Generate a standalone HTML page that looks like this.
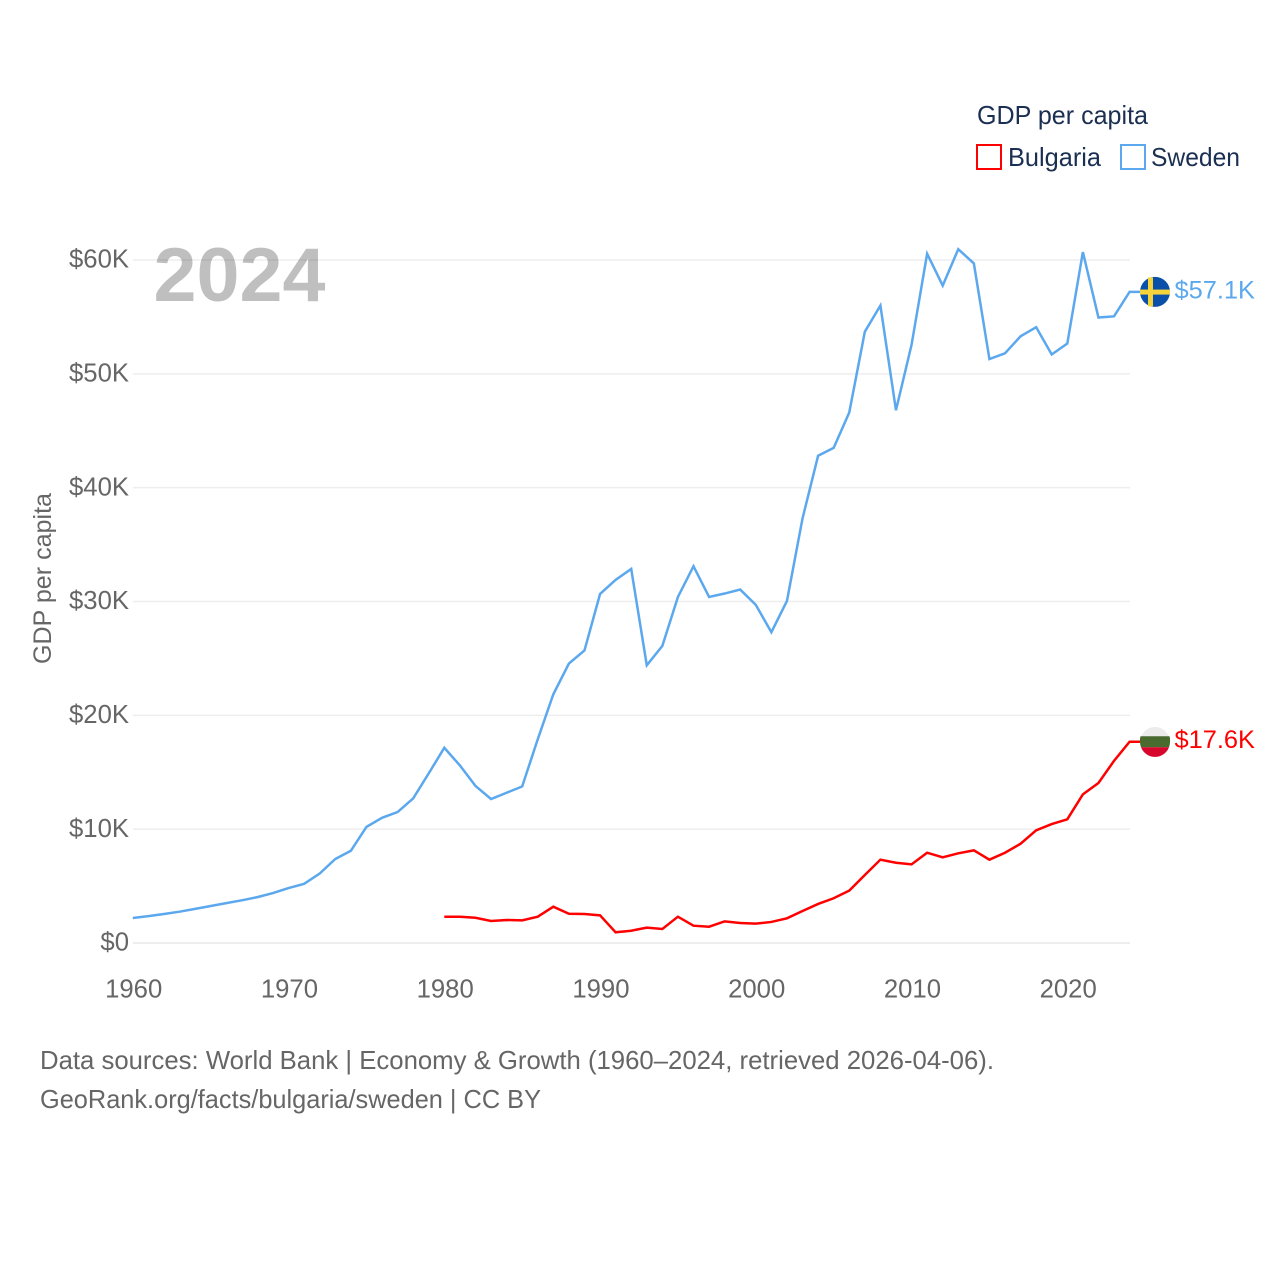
<!DOCTYPE html>
<html lang="en">
<head>
<meta charset="utf-8">
<title>GDP per capita: Bulgaria and Sweden</title>
<style>
  html, body { margin: 0; padding: 0; background: #ffffff; }
  svg { display: block; font-family: "Liberation Sans", sans-serif; }
</style>
</head>
<body>
<svg id="chart" xmlns="http://www.w3.org/2000/svg" width="1280" height="1280" viewBox="0 0 1280 1280">
  <rect width="1280" height="1280" fill="#ffffff"/>
  <g id="grid"></g>
  <g id="yTicks"></g>
  <g id="xTicks"></g>
  <text x="153.5" y="301" font-size="76" font-weight="700" fill="#000000" fill-opacity="0.25" textLength="172" lengthAdjust="spacingAndGlyphs">2024</text>
  <text transform="translate(51,664) rotate(-90)" font-size="25" fill="#666666" textLength="171" lengthAdjust="spacingAndGlyphs">GDP per capita</text>

  <g id="series"></g>
  <g id="ends"></g>

  <g>
    <text x="977" y="124" font-size="26" fill="#1a2f52" textLength="171" lengthAdjust="spacingAndGlyphs">GDP per capita</text>
    <g>
      <rect x="977" y="145" width="24" height="24" fill="none" stroke="#ff0000" stroke-width="2"/>
      <text x="1008" y="166" font-size="26" fill="#1a2f52" textLength="93" lengthAdjust="spacingAndGlyphs">Bulgaria</text>
    </g>
    <g>
      <rect x="1121" y="145" width="24" height="24" fill="none" stroke="#5ba8ee" stroke-width="2"/>
      <text x="1151" y="166" font-size="26" fill="#1a2f52" textLength="89" lengthAdjust="spacingAndGlyphs">Sweden</text>
    </g>
  </g>

  <text x="40" y="1069" font-size="26" fill="#666666" textLength="954" lengthAdjust="spacingAndGlyphs">Data sources: World Bank | Economy &amp; Growth (1960–2024, retrieved 2026-04-06).</text>
  <text x="40" y="1108" font-size="26" fill="#666666" textLength="501" lengthAdjust="spacingAndGlyphs">GeoRank.org/facts/bulgaria/sweden | CC BY</text>
</svg>

<script>
// Chart data (values in thousands of US dollars)
var yTickValues = [0, 10, 20, 30, 40, 50, 60];
var yTickLabels = ["$0", "$10K", "$20K", "$30K", "$40K", "$50K", "$60K"];
var xTickYears = [1960, 1970, 1980, 1990, 2000, 2010, 2020];
var swedenStartYear = 1960;
var swedenValues = [
  2.2, 2.36, 2.55, 2.75, 3.0, 3.25, 3.5, 3.75, 4.03, 4.39,
  4.83, 5.2, 6.1, 7.38, 8.1, 10.2, 11.0, 11.5, 12.7, 14.9,
  17.15, 15.6, 13.8, 12.65, 13.2, 13.75, 17.9, 21.85, 24.55, 25.7,
  30.66, 31.9, 32.86, 24.4, 26.1, 30.4, 33.1, 30.4, 30.7, 31.05,
  29.7, 27.3, 30.05, 37.3, 42.8, 43.5, 46.6, 53.7, 56.0, 46.8,
  52.55, 60.55, 57.75, 60.95, 59.7, 51.3, 51.8, 53.3, 54.1, 51.7,
  52.66, 60.7, 54.95, 55.05, 57.2
];
var bulgariaStartYear = 1980;
var bulgariaValues = [
  2.31, 2.31, 2.22, 1.93, 2.02, 1.99, 2.31, 3.19, 2.57, 2.55,
  2.43, 0.94, 1.08, 1.35, 1.23, 2.31, 1.52, 1.43, 1.9, 1.76,
  1.7, 1.85, 2.17, 2.81, 3.43, 3.93, 4.6, 5.97, 7.32, 7.05,
  6.91, 7.93, 7.53, 7.88, 8.14, 7.32, 7.93, 8.72, 9.9, 10.45,
  10.87, 13.06, 14.06, 16.0, 17.68
];
var swedenEndLabel = "$57.1K";
var bulgariaEndLabel = "$17.6K";

var NS = "http://www.w3.org/2000/svg";
var plotLeft = 132.8, plotRight = 1129.6, plotBottom = 943, plotTop = 260;

function xScale(year) {
  return plotLeft + (year - 1960) * (plotRight - plotLeft) / (2024 - 1960);
}
function yScale(value) {
  return plotBottom - value * (plotBottom - plotTop) / 60;
}
function make(tag, attrs, parent) {
  var el = document.createElementNS(NS, tag);
  for (var k in attrs) el.setAttribute(k, attrs[k]);
  parent.appendChild(el);
  return el;
}

var gridG = document.getElementById("grid");
var yG = document.getElementById("yTicks");
var xG = document.getElementById("xTicks");
var seriesG = document.getElementById("series");
var endsG = document.getElementById("ends");

yTickValues.forEach(function (v, i) {
  var y = yScale(v);
  var line = make("line", { x1: plotLeft, x2: plotRight + 0.4, y1: y, y2: y, stroke: "#eeeeee", "stroke-width": v === 0 ? 2 : 1.5 }, gridG);
  
  
  var t = make("text", { x: 129, y: y + 7.7, "text-anchor": "end", "font-size": 25.7, fill: "#666666" }, yG);
  
  
  t.textContent = yTickLabels[i];
});

xTickYears.forEach(function (yr) {
  var t = make("text", { x: xScale(yr) + 0.9, y: 997.5, "text-anchor": "middle", "font-size": 25.7, fill: "#666666" }, xG);
  
  
  t.textContent = yr;
});

function seriesPoints(startYear, values) {
  var pts = values.map(function (v, i) {
    return xScale(startYear + i).toFixed(2) + "," + yScale(v).toFixed(2);
  });
  pts.push("1155," + yScale(values[values.length - 1]).toFixed(2));
  return pts.join(" ");
}

var swedenLine = make("polyline", { points: seriesPoints(swedenStartYear, swedenValues), fill: "none", stroke: "#5ba8ee", "stroke-width": 2.5, "stroke-linejoin": "miter" }, seriesG);



var bulgariaLine = make("polyline", { points: seriesPoints(bulgariaStartYear, bulgariaValues), fill: "none", stroke: "#ff0000", "stroke-width": 2.5, "stroke-linejoin": "miter" }, seriesG);



// Sweden end marker
var swY = yScale(swedenValues[swedenValues.length - 1]);
var swFlag = make("g", { transform: "translate(1155," + swY + ")" }, endsG);


make("circle", { cx: 0, cy: 0, r: 15, fill: "#0b50a8" }, swFlag);
make("rect", { x: -15, y: -2.3, width: 30, height: 5, fill: "#f5d33a" }, swFlag);
make("rect", { x: -7, y: -14.5, width: 5, height: 29, fill: "#f5d33a" }, swFlag);
var swLabel = make("text", { x: 1174.5, y: swY + 6.5, "font-size": 25.4, fill: "#5ba8ee" }, endsG);


swLabel.textContent = swedenEndLabel;

// Bulgaria end marker
var bgY = yScale(bulgariaValues[bulgariaValues.length - 1]);
var bgFlag = make("g", { transform: "translate(1155," + bgY + ")" }, endsG);


make("circle", { cx: 0, cy: 0.3, r: 15, fill: "#ececec" }, bgFlag);
make("path", { d: "M-14.5,-5.5 H14.5 A15,15 0 0 1 15,0.3 A15,15 0 0 1 14,5.5 H-14 A15,15 0 0 1 -15,0.3 A15,15 0 0 1 -14.5,-5.5 Z", fill: "#4a6b2f" }, bgFlag);
make("path", { d: "M-14,5.5 H14 A15,15 0 0 1 -14,5.5 Z", fill: "#d6062c" }, bgFlag);
var bgLabel = make("text", { x: 1174.5, y: bgY + 6.5, "font-size": 25.4, fill: "#ff0000" }, endsG);


bgLabel.textContent = bulgariaEndLabel;
</script>
</body>
</html>
